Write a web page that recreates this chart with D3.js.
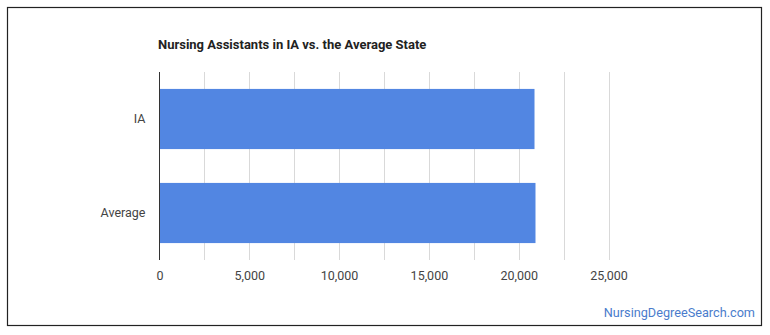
<!DOCTYPE html>
<html>
<head>
<meta charset="utf-8">
<script src="https://cdn.jsdelivr.net/npm/d3@7"></script>
<style>
  html, body { margin: 0; padding: 0; background: #fff; }
  svg { display: block; font-family: Roboto, "Open Sans", sans-serif; }
</style>
</head>
<body>
<svg id="chart" width="770" height="335"></svg>
<script>
// Chart data
const categories = ["IA", "Average"];
const values = [20880, 20935];
const tickValues = [0, 5000, 10000, 15000, 20000, 25000];
const gridValues = [2500, 5000, 7500, 10000, 12500, 15000, 17500, 20000, 22500, 25000];
const titleText = "Nursing Assistants in IA vs. the Average State";
const sourceText = "NursingDegreeSearch.com";

const svg = d3.select("#chart");

// Outer frame
svg.append("rect")
  .attr("x", 7.5).attr("y", 7.5)
  .attr("width", 754).attr("height", 318)
  .attr("fill", "#fff")
  .attr("stroke", "#222")
  .attr("stroke-width", 1.2);

const plot = { left: 159.5, right: 608.5, top: 72, bottom: 260 };

const x = d3.scaleLinear().domain([0, 25000]).range([plot.left, plot.right]);
const y = d3.scaleBand().domain(categories).range([plot.top, plot.bottom])
  .paddingInner(0.36).paddingOuter(0.18);

// Title
svg.append("text")
  .attr("x", 158).attr("y", 48.5)
  .attr("font-size", 13).attr("font-weight", "bold")
  .attr("fill", "#222")
  .text(titleText);

// Vertical gridlines
svg.append("g").selectAll("line").data(gridValues).join("line")
  .attr("x1", d => Math.round(x(d)) + 0.5).attr("x2", d => Math.round(x(d)) + 0.5)
  .attr("y1", plot.top).attr("y2", plot.bottom)
  .attr("stroke", "#d9d9d9").attr("stroke-width", 1);

// Bars
svg.append("g").selectAll("rect").data(categories).join("rect")
  .attr("x", x(0))
  .attr("y", d => y(d))
  .attr("width", (d, i) => x(values[i]) - x(0))
  .attr("height", y.bandwidth())
  .attr("fill", "#5286e2");

// Baseline axis
svg.append("line")
  .attr("x1", plot.left).attr("x2", plot.left)
  .attr("y1", plot.top).attr("y2", plot.bottom)
  .attr("stroke", "#333").attr("stroke-width", 1);

// X axis labels
const xAxis = d3.axisBottom(x).tickValues(tickValues).tickSize(0).tickPadding(0)
  .tickFormat(d3.format(","));
const gx = svg.append("g").attr("transform", `translate(0,${plot.bottom + 16})`).call(xAxis);
gx.select(".domain").remove();
gx.selectAll("text")
  .attr("font-family", "Roboto, sans-serif")
  .attr("font-size", 12.5).attr("fill", "#444")
  .attr("dy", "0.35em").attr("y", 0);

// Y axis labels
const yAxis = d3.axisLeft(y).tickSize(0).tickPadding(14);
const gy = svg.append("g").attr("transform", `translate(${plot.left},0)`).call(yAxis);
gy.select(".domain").remove();
gy.selectAll("text")
  .attr("font-family", "Roboto, sans-serif")
  .attr("font-size", 12.5).attr("fill", "#444");

// Source credit
svg.append("text")
  .attr("x", 755).attr("y", 317)
  .attr("text-anchor", "end")
  .attr("font-size", 12.7).attr("fill", "#4a7ccc")
  .text(sourceText);
</script>
</body>
</html>
